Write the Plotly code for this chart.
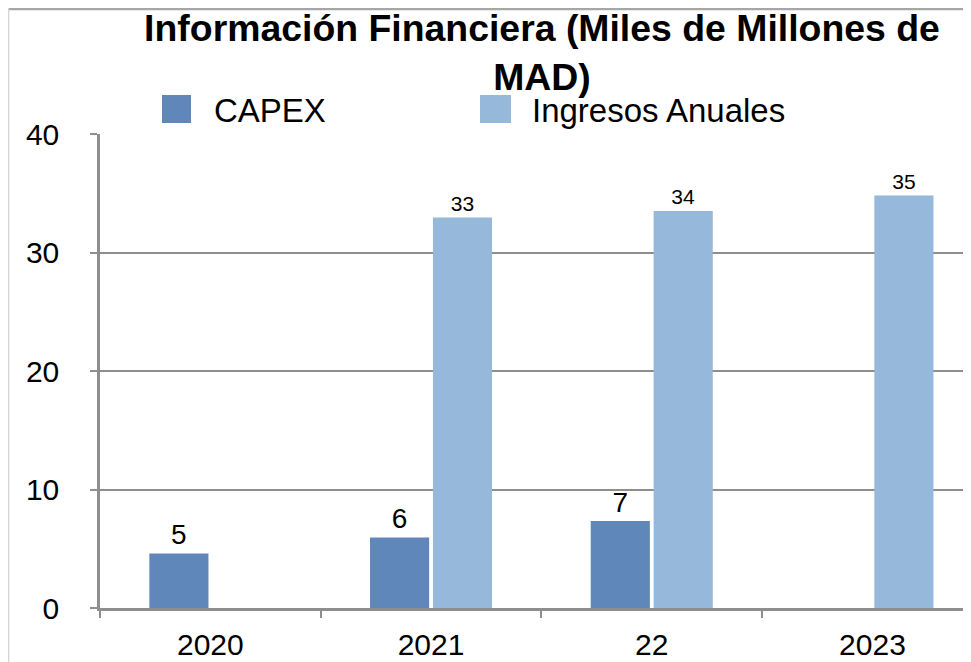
import plotly.graph_objects as go

years = ["2020", "2021", "22", "2023"]
capex = [4.6, 5.95, 7.35, None]
ingresos = [None, 32.95, 33.5, 34.8]
y_ticks = [0, 10, 20, 30, 40]

FONT = "Liberation Sans, Arial, Helvetica, sans-serif"
C_CAPEX = "#5f87b9"
C_ING = "#96b8db"
GRID = "#8e8e8e"

fig = go.Figure()
fig.add_trace(go.Bar(
    name="CAPEX", x=years, y=capex, legend="legend",
    marker=dict(color=C_CAPEX, line=dict(width=0)),
    texttemplate="%{y:.0f}", textposition="outside",
    textfont=dict(size=28, color="black", family=FONT),
    cliponaxis=False,
))
fig.add_trace(go.Bar(
    name="Ingresos Anuales", x=years, y=ingresos, legend="legend2",
    marker=dict(color=C_ING, line=dict(width=0)),
    texttemplate="%{y:.0f}", textposition="outside",
    textfont=dict(size=21, color="black", family=FONT),
    cliponaxis=False,
))

W, H = 971, 662
L, R, T, B = 92, 0, 126, 62
pw = W - L - R
ph = H - T - B


def px(fx):
    return (fx - L) / pw


def py(fy):
    return (H - B - fy) / ph


# enlarged legend swatches sitting under the legends' own symbols
swatches = [
    dict(type="rect", xref="paper", yref="paper", layer="above",
         x0=px(154), x1=px(183), y0=py(115), y1=py(87),
         fillcolor=C_CAPEX, line=dict(width=0)),
    dict(type="rect", xref="paper", yref="paper", layer="above",
         x0=px(472), x1=px(503), y0=py(115), y1=py(87),
         fillcolor=C_ING, line=dict(width=0)),
]
frame = [
    dict(type="line", xref="paper", yref="paper",
         x0=px(0), x1=1.0, y0=py(1), y1=py(1),
         line=dict(color="#a6a6a6", width=2.5)),
    dict(type="line", xref="paper", yref="paper",
         x0=px(0.5), x1=px(0.5), y0=py(0), y1=py(H),
         line=dict(color="#d4d4d4", width=1.5)),
]

legend_style = dict(
    orientation="h", xanchor="left", y=py(101), yanchor="middle",
    font=dict(size=33, color="black", family=FONT),
    itemwidth=65, bgcolor="rgba(0,0,0,0)",
)

fig.update_layout(
    width=W, height=H,
    margin=dict(l=L, r=R, t=T, b=B, autoexpand=False),
    paper_bgcolor="white", plot_bgcolor="white",
    font=dict(family=FONT, color="black"),
    barmode="group", bargap=0.43, bargroupgap=0.06,
    title=dict(
        text="<b>Información Financiera (Miles de Millones de<br>MAD)</b>",
        x=534 / W, xanchor="center", xref="container",
        y=1 - 33 / H, yanchor="top", yref="container",
        font=dict(size=37.4, color="black", family=FONT),
    ),
    showlegend=True,
    legend=dict(legend_style, x=px(131)),
    legend2=dict(legend_style, x=px(449)),
    xaxis=dict(
        type="category", range=[-0.5, -0.5 + pw / 220.7],
        showline=True, linecolor=GRID, linewidth=2.5,
        ticks="outside", tickson="boundaries", ticklen=7, tickwidth=2, tickcolor=GRID,
        tickfont=dict(size=30, color="black", family=FONT),
        showgrid=False, zeroline=False, ticklabelstandoff=8,
    ),
    yaxis=dict(
        range=[0, 40], tickvals=y_ticks,
        showline=True, linecolor=GRID, linewidth=2.5,
        ticks="outside", ticklen=7, tickwidth=2, tickcolor=GRID,
        tickfont=dict(size=30, color="black", family=FONT),
        showgrid=True, gridcolor=GRID, gridwidth=2,
        zeroline=False, ticklabelstandoff=25,
    ),
    shapes=swatches + frame,
)

fig.write_html("out.html")
